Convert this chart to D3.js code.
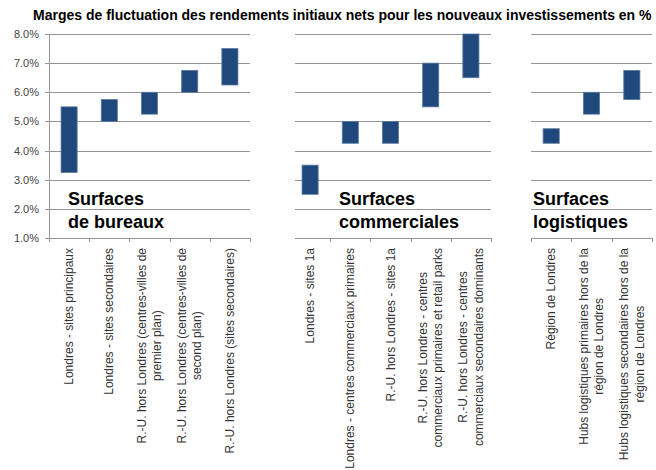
<!DOCTYPE html>
<html>
<head>
<meta charset="utf-8">
<script src="https://cdn.jsdelivr.net/npm/d3@7"></script>
<style>
  body { margin: 0; background: #fff; }
  svg { font-family: "Liberation Sans", Arial, sans-serif; }
</style>
</head>
<body>
<svg id="chart" width="656" height="470"></svg>
<script>
// ---------------- data ----------------
const yTicks = [1, 2, 3, 4, 5, 6, 7, 8];

const officeCats = [
  ["Londres - sites principaux"],
  ["Londres - sites secondaires"],
  ["R.-U. hors Londres (centres-villes de", "premier plan)"],
  ["R.-U. hors Londres (centres-villes de", "second plan)"],
  ["R.-U. hors Londres (sites secondaires)"]
];
const officeLow  = [3.25, 5.0, 5.25, 6.0, 6.25];
const officeHigh = [5.5, 5.75, 6.0, 6.75, 7.5];

const retailCats = [
  ["Londres - sites 1a"],
  ["Londres - centres commerciaux primaires"],
  ["R.-U. hors Londres - sites 1a"],
  ["R.-U. hors Londres - centres", "commerciaux primaires et retail parks"],
  ["R.-U. hors Londres - centres", "commerciaux secondaires dominants"]
];
const retailLow  = [2.5, 4.25, 4.25, 5.5, 6.5];
const retailHigh = [3.5, 5.0, 5.0, 7.0, 8.0];

const logiCats = [
  ["Région de Londres"],
  ["Hubs logistiques primaires hors de la", "région de Londres"],
  ["Hubs logistiques secondaires hors de la", "région de Londres"]
];
const logiLow  = [4.25, 5.25, 5.75];
const logiHigh = [4.75, 6.0, 6.75];

const panelTitles = [
  ["Surfaces", "de bureaux"],
  ["Surfaces", "commerciales"],
  ["Surfaces", "logistiques"]
];

const title = "Marges de fluctuation des rendements initiaux nets pour les nouveaux investissements en %";

// ---------------- layout ----------------
const svg = d3.select('#chart');
const barColor = '#1f497d';
const gridColor = '#959595';

const y = d3.scaleLinear().domain([1, 8]).range([238, 34]);

const panels = [
  { cats: officeCats, low: officeLow, high: officeHigh, x0: 49,  x1: 250, gx: 49,  firstTick: true,  head: panelTitles[0], hx: 68 },
  { cats: retailCats, low: retailLow, high: retailHigh, x0: 290, x1: 491, gx: 295, firstTick: false, head: panelTitles[1], hx: 339 },
  { cats: logiCats,   low: logiLow,   high: logiHigh,   x0: 531, x1: 652, gx: 531, firstTick: true,  head: panelTitles[2], hx: 533 }
];

// title
svg.append('text')
  .attr('x', 33).attr('y', 20)
  .attr('font-size', 14).attr('font-weight', 'bold')
  .attr('fill', '#000')
  .text(title);

// y labels (first panel only)
svg.append('g').selectAll('text')
  .data(yTicks).enter().append('text')
    .attr('x', 39).attr('y', d => y(d) + 4)
    .attr('text-anchor', 'end')
    .attr('font-size', 11).attr('fill', '#444')
    .text(d => d3.format('.1f')(d) + '%');

// y axis line with outward ticks
svg.append('line')
  .attr('x1', 49.5).attr('x2', 49.5)
  .attr('y1', y(8)).attr('y2', y(1))
  .attr('stroke', gridColor);
svg.append('g').selectAll('line')
  .data(yTicks).enter().append('line')
    .attr('x1', 45).attr('x2', 49)
    .attr('y1', d => Math.round(y(d)) + 0.5).attr('y2', d => Math.round(y(d)) + 0.5)
    .attr('stroke', gridColor);

panels.forEach(p => {
  const g = svg.append('g');
  const idx = p.cats.map((c, i) => i);
  const x = d3.scaleBand().domain(idx).range([p.x0, p.x1]);
  const bw = x.bandwidth();

  // gridlines
  g.selectAll('line.grid')
    .data(yTicks).enter().append('line')
      .attr('class', 'grid')
      .attr('x1', p.gx).attr('x2', p.x1)
      .attr('y1', d => Math.round(y(d)) + 0.5).attr('y2', d => Math.round(y(d)) + 0.5)
      .attr('stroke', gridColor);

  // category boundary ticks
  const bounds = idx.map(i => x(i)).concat([p.x1]).filter((b, i) => p.firstTick || i > 0);
  g.selectAll('line.tick')
    .data(bounds).enter().append('line')
      .attr('class', 'tick')
      .attr('x1', d => Math.round(d) + 0.5).attr('x2', d => Math.round(d) + 0.5)
      .attr('y1', y(1)).attr('y2', y(1) + 4)
      .attr('stroke', gridColor);

  // floating bars
  g.selectAll('rect')
    .data(idx).enter().append('rect')
      .attr('x', i => x(i) + bw * 0.3)
      .attr('width', bw * 0.4)
      .attr('y', i => y(p.high[i]))
      .attr('height', i => y(p.low[i]) - y(p.high[i]))
      .attr('fill', barColor)
      .attr('stroke', '#5a78a0')
      .attr('stroke-width', 0.8);

  // panel heading
  const h = g.append('text')
    .attr('font-size', 18).attr('font-weight', 'bold').attr('fill', '#000');
  p.head.forEach((line, k) => {
    h.append('tspan').attr('x', p.hx).attr('y', 205 + k * 23).text(line);
  });

  // rotated category labels
  idx.forEach(i => {
    const cx = x(i) + bw / 2;
    const lab = g.append('g')
      .attr('transform', `translate(${cx},248) rotate(-90)`);
    const lines = p.cats[i];
    const n = lines.length;
    const texts = lines.map((line, k) => lab.append('text')
      .attr('text-anchor', 'middle')
      .attr('y', (k - (n - 1) / 2) * 15.5 + 4)
      .attr('font-size', 12).attr('fill', '#333')
      .text(line));
    const maxW = d3.max(texts, t => t.node().getComputedTextLength());
    texts.forEach(t => t.attr('x', -maxW / 2));
  });
});
</script>
</body>
</html>
